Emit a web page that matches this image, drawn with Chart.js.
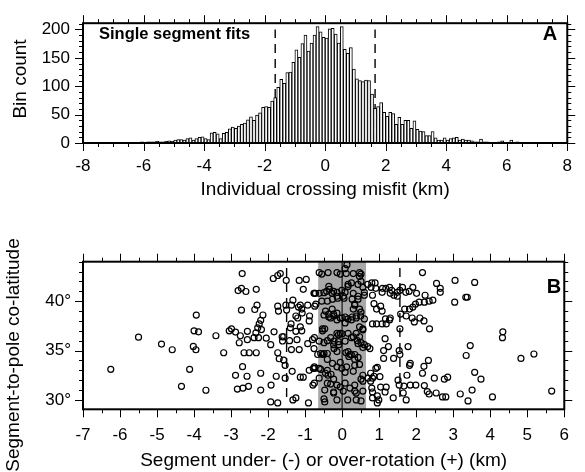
<!DOCTYPE html>
<html><head><meta charset="utf-8">
<script src="https://cdn.jsdelivr.net/npm/chart.js@4.4.0/dist/chart.umd.min.js"></script>
<style>
html,body{margin:0;padding:0;background:#fff;}
#wrap{position:relative;width:585px;height:472px;overflow:hidden;}
#cA{position:absolute;left:0;top:0;width:585px;height:215px;}
#cB{position:absolute;left:0;top:215px;width:585px;height:257px;}
</style></head><body>
<div id="wrap"><canvas id="cA" width="585" height="215"></canvas><canvas id="cB" width="585" height="257"></canvas></div>
<script>
// ---------- Panel A data (histogram, 0.1 km bins from -8 to 8) ----------
const binStart = -8;
const binWidth = 0.1;
const histCounts = [
  0,0,0,0,0,1,1,0,1,1, 0,1,1,1,0,1,1,1,1,2,
  1,2,2,2,3,2,2,3,4,3, 5,6,6,5,8,9,5,8,10,11,
  8,6,18,19,16,8,17,19,25,28, 26,30,33,35,41,46,40,49,53,63,
  64,63,74,80,98,112,105,124,125,142, 164,151,175,190,162,176,190,205,196,186,
  185,201,202,192,176,205,165,158,168,130, 113,110,108,111,110,86,61,64,71,54,
  47,54,52,33,45,33,40,40,26,39, 24,21,20,13,13,20,9,5,5,9,
  5,8,9,10,5,7,5,5,4,2, 2,7,2,2,1,1,1,2,4,1,
  1,5,1,2,1,1,1,0,0,0, 0,0,0,0,0,0,0,0,0,0
];
const histXTicks = [-8,-6,-4,-2,0,2,4,6,8];
const histYTicks = [0,50,100,150,200];
const histDashX = [-1.65, 1.65];
const histDashTop = 200;

// ---------- Panel B data (scatter) ----------
const scatXTicks = [-7,-6,-5,-4,-3,-2,-1,0,1,2,3,4,5,6];
const scatYTicks = [30,35,40];
const boxHalfWidth = 0.65;
const scatDashX = [-1.5, 1.56];
const scatDashRange = [30.3, 43.6];
const segmentPoints = [
[-6.25,33.1],[-5.5,36.36],[-4.88,35.66],[-4.59,35.08],[-4.34,31.38],[-4.12,33.1],[-4.02,35.42],[-3.95,35.08],[-4.0,37.0],[-3.88,36.9],
[-3.94,38.59],[-3.68,30.98],[-3.41,36.5],[-3.2,34.78],[-3.05,37.0],[-2.99,37.2],[-2.88,36.87],[-2.78,35.79],[-2.75,36.5],[-2.88,32.49],
[-2.83,31.1],[-2.68,31.2],[-2.69,33.37],[-2.65,34.78],[-2.51,34.78],[-2.57,32.4],[-2.53,31.38],[-2.81,41.08],[-2.72,41.3],[-2.6,40.98],
[-2.7,42.8],[-2.72,39.09],[-2.56,36.95],[-2.56,36.1],[-2.38,36.3],[-2.33,36.8],[-2.28,37.3],[-2.24,37.7],[-2.18,37.13],[-2.2,38.06],
[-2.14,38.6],[-2.32,41.2],[-2.36,39.16],[-2.3,39.6],[-2.26,36.3],[-2.32,34.78],[-2.2,32.7],[-2.2,31.0],[-2.05,36.25],[-1.93,35.6],
[-1.84,36.9],[-1.92,31.5],[-1.93,29.8],[-1.78,32.4],[-1.74,29.7],[-1.86,42.3],[-1.74,42.6],[-1.67,42.8],[-1.74,39.5],[-1.72,39.0],
[-1.62,36.4],[-1.58,36.4],[-1.74,34.78],[-1.7,34.17],[-1.58,34.04],[-1.54,33.5],[-1.54,32.2],[-1.51,42.1],[-1.61,35.97],[-1.52,39.6],
[-1.5,39.1],[-1.42,36.0],[-1.38,37.7],[-1.4,37.3],[-1.37,39.6],[-1.33,40.1],[-1.37,35.1],[-1.35,32.9],[-1.33,30.0],[-1.25,30.2],
[-1.16,42.1],[-0.97,42.2],[-1.05,41.2],[-1.18,39.4],[-1.13,39.6],[-1.09,39.2],[-1.08,38.8],[-1.25,38.5],[-1.2,38.3],[-1.13,37.4],
[-1.09,37.0],[-1.25,36.95],[-1.22,36.1],[-1.16,35.1],[-1.13,32.3],[-1.05,32.3],[-0.93,39.6],[-0.89,38.0],[-0.88,38.5],[-0.93,35.7],
[-0.91,29.7],[-0.79,31.5],[-0.89,33.0],[-0.78,33.2],[-0.74,33.2],[-0.8,36.1],[-0.76,40.8],[-0.72,40.8],[-0.74,39.5],[-0.76,35.2],
[-0.62,42.9],[-0.55,42.75],[-0.38,42.9],[-0.14,42.9],[-0.05,42.75],[0.11,42.8],[0.3,42.8],[0.47,42.9],[0.51,42.75],[0.13,43.7],[0.08,43.3],
[-0.75,40.8],[-0.62,40.8],[-0.49,40.86],[-0.34,41.2],[-0.27,40.8],[-0.14,40.9],[-0.01,41.1],[0.08,40.9],[0.16,41.7],[0.25,41.85],
[0.43,41.7],[0.51,42.0],[0.56,41.4],[0.6,40.9],[0.69,41.7],[-0.4,40.0],[-0.26,40.2],[-0.12,40.3],[0.03,40.5],[0.27,40.2],
[0.43,40.5],[0.6,40.6],[-0.71,39.7],[-0.55,40.0],[-0.45,39.0],[-0.27,39.2],[-0.14,38.8],[-0.22,38.5],[-0.31,38.3],[-0.05,38.3],
[0.08,38.4],[0.16,38.2],[0.27,38.4],[0.38,38.5],[0.5,38.5],[0.6,38.2],[0.3,39.2],[0.34,39.7],[0.47,39.2],[-0.36,38.7],
[-0.53,37.2],[-0.47,37.2],[-0.14,36.75],[-0.05,36.75],[0.16,36.75],[0.38,36.75],[0.47,36.4],[0.56,37.2],[-0.75,36.3],[-0.62,35.95],
[-0.49,35.8],[-0.31,36.3],[-0.22,35.95],[-0.09,35.6],[0.08,35.95],[0.25,36.3],[0.41,36.0],[0.51,35.8],[0.6,35.6],[-0.66,34.6],
[-0.53,34.6],[-0.4,34.7],[-0.22,35.2],[-0.14,34.9],[0.16,34.9],[0.18,34.4],[0.25,34.6],[0.34,34.6],[0.43,34.3],[-0.75,33.35],
[-0.62,33.2],[-0.45,32.7],[-0.38,32.5],[-0.26,33.7],[-0.14,33.35],[-0.01,33.2],[0.12,33.35],[0.34,33.5],[0.56,32.5],[-0.75,31.7],
[-0.62,32.2],[-0.4,31.7],[-0.14,31.5],[0.08,31.7],[0.34,31.5],[0.56,31.9],[-0.47,31.0],[-0.23,30.7],[0.03,30.9],[0.34,30.9],
[0.56,30.9],[-0.47,29.8],[-0.14,30.0],[0.15,30.0],[0.38,30.0],
[-0.36,41.5],[-0.42,41.0],[-0.23,41.0],[-0.14,40.5],[0.05,40.3],[0.16,41.5],[-0.49,38.6],[-0.36,38.4],[-0.14,38.1],[0.0,38.3],
[0.08,37.8],[-0.23,38.7],[-0.1,36.6],[0.0,36.7],[-0.53,37.0],[-0.4,36.0],[-0.23,35.6],[-0.1,35.9],[0.1,34.8],[-0.58,34.7],
[-0.49,34.7],[-0.4,34.1],[-0.05,33.8],[-0.58,33.1],[-0.4,33.0],[-0.3,32.6],[-0.23,32.1],[0.08,32.8],[-0.31,31.6],[-0.05,31.3],
[-0.49,30.1],[-0.23,30.8],[0.3,40.8],[0.47,42.5],[0.43,40.2],[0.34,39.6],[0.51,38.9],[0.38,38.3],[0.25,38.1],[0.47,37.4],
[0.56,37.1],[0.3,36.4],[0.43,35.7],[0.56,35.3],[0.21,34.6],[0.34,34.1],[0.47,33.6],[0.3,32.9],[0.51,32.1],[0.21,31.2],
[0.38,30.7],[0.51,29.9],
[0.8,41.85],[0.89,41.85],[0.82,40.6],[0.86,39.75],[0.93,39.2],[0.82,37.7],[0.93,37.7],[1.08,37.7],[1.19,37.7],[1.3,38.3],
[1.04,39.5],[1.08,39.0],[1.17,38.2],[1.28,38.1],[1.09,41.3],[1.18,41.3],[1.28,41.4],[1.34,41.1],[1.3,40.8],[1.4,40.6],
[1.49,40.9],[1.56,41.1],[1.49,40.5],[1.63,41.4],[1.72,40.9],[1.81,41.0],[1.91,41.4],[2.01,40.8],[2.17,42.9],[2.24,40.6],
[2.45,40.1],[2.55,41.8],[2.65,41.3],[2.65,40.9],[2.35,40.0],[2.22,39.9],[2.08,39.9],[1.98,39.7],[1.91,39.4],[1.82,39.2],
[1.69,39.2],[1.73,38.5],[1.58,38.7],[1.56,37.2],[1.89,38.3],[1.95,37.9],[2.1,38.3],[2.21,38.0],[2.36,37.2],[3.04,39.9],
[3.05,42.1],[3.34,40.4],[3.38,40.4],[3.58,41.9],[4.34,36.9],[4.33,36.3],[3.46,35.5],[3.35,34.5],[3.58,32.8],[3.75,32.1],
[4.83,34.2],[5.18,34.65],[5.66,30.9],[4.06,30.3],[3.51,31.0],[3.4,29.9],[3.19,30.6],[2.85,32.3],[2.76,32.1],[2.49,32.2],
[2.71,30.3],[2.8,30.3],[2.54,30.7],[2.3,30.85],[2.35,30.6],[2.22,31.45],[2.17,32.7],[2.21,33.4],[2.33,34.0],[1.99,31.5],
[1.84,31.5],[1.73,30.0],[1.65,30.7],[1.67,31.4],[1.54,31.5],[1.51,32.0],[1.75,32.5],[1.82,33.5],[1.84,33.7],[1.78,35.4],
[1.54,35.0],[1.56,34.6],[1.39,34.2],[1.25,35.4],[1.12,35.0],[1.12,34.2],[1.16,36.2],[1.02,32.35],[1.04,31.3],[1.19,31.3],
[1.16,30.8],[1.38,30.2],[0.95,30.4],[0.95,29.7],[0.99,30.0],[0.82,30.2],[0.82,30.8],[0.8,31.2],[0.77,31.9],[0.7,32.2],
[0.82,32.2],[0.86,32.4],[0.91,33.2],[0.95,33.3],[0.77,32.7],[0.75,35.2],[0.69,35.4],[0.78,41.4],[0.91,41.3],[1.08,40.9]
];

// ---------- common ----------
const FONT = "'Liberation Sans', Arial, Helvetica, sans-serif";
Chart.defaults.font.family = FONT;
Chart.defaults.font.size = 17;
Chart.defaults.color = '#000';

function range(a, b, s) { const r = []; for (let v = a; v <= b + 1e-9; v += s) r.push(Math.round(v * 1000) / 1000); return r; }

const framePlugin = {
  id: 'frame',
  afterDatasetsDraw(chart, args, o) {
    const {ctx, chartArea: a, scales: {x, y}} = chart;
    ctx.save();
    ctx.strokeStyle = '#000';
    ctx.lineWidth = 1;
    const seg = (x1, y1, x2, y2) => { ctx.beginPath(); ctx.moveTo(x1, y1); ctx.lineTo(x2, y2); ctx.stroke(); };
    o.xMinor.forEach(v => { const p = Math.round(x.getPixelForValue(v)) + 0.5; seg(p, a.bottom, p, a.bottom + 4); seg(p, a.top, p, a.top - 4); });
    o.xMajor.forEach(v => { const p = Math.round(x.getPixelForValue(v)) + 0.5; seg(p, a.bottom, p, a.bottom + 8); seg(p, a.top, p, a.top - 8); });
    o.yMinor.forEach(v => { const p = Math.round(y.getPixelForValue(v)) + 0.5; seg(a.left, p, a.left - 4, p); seg(a.right, p, a.right + 4, p); });
    o.yMajor.forEach(v => { const p = Math.round(y.getPixelForValue(v)) + 0.5; seg(a.left, p, a.left - 8, p); seg(a.right, p, a.right + 8, p); });
    ctx.lineWidth = 2;
    ctx.strokeRect(a.left, a.top, a.right - a.left, a.bottom - a.top);
    // y title
    ctx.fillStyle = '#000';
    ctx.font = '19px ' + FONT;
    ctx.textAlign = 'center';
    ctx.textBaseline = 'middle';
    ctx.translate(o.yTitleX, o.yTitleY);
    ctx.rotate(-Math.PI / 2);
    ctx.fillText(o.yTitle, 0, 0);
    ctx.setTransform(1, 0, 0, 1, 0, 0);
    // annotations
    (o.texts || []).forEach(t => {
      ctx.font = t.font;
      ctx.textAlign = t.align;
      ctx.textBaseline = 'middle';
      ctx.fillText(t.text, t.x, t.y);
    });
    ctx.restore();
  }
};

function fixSize(w, h) {
  return function(scale) { if (w !== null) scale.width = w; if (h !== null) scale.height = h; };
}

// ---------- Chart A ----------
const histData = histCounts.map((c, i) => ({x: binStart + binWidth * (i + 0.5), y: c}));
const dashA = histDashX.map(xv => ({
  type: 'line', data: [{x: xv, y: 0}, {x: xv, y: histDashTop}],
  borderColor: '#000', borderWidth: 1.4, borderDash: [9, 6], pointRadius: 0, order: 2
}));

new Chart(document.getElementById('cA'), {
  type: 'bar',
  data: {
    datasets: [{
      type: 'bar', data: histData, backgroundColor: '#fff', borderColor: '#000', borderWidth: 1,
      barPercentage: 1, categoryPercentage: 1, order: 1
    }, ...dashA]
  },
  options: {
    responsive: false, animation: false, devicePixelRatio: 1,
    layout: {padding: {left: 0, right: 6, top: 13, bottom: 0}},
    plugins: {
      legend: {display: false}, tooltip: {enabled: false},
      frame: {
        xMajor: histXTicks, xMinor: range(-8, 8, 0.5),
        yMajor: histYTicks, yMinor: range(0, 210, 10),
        yTitle: 'Bin count', yTitleX: 21, yTitleY: 79,
        texts: [
          {text: 'Single segment fits', x: 99, y: 34, font: 'bold 16.5px ' + FONT, align: 'left'},
          {text: 'A', x: 550, y: 34, font: 'bold 20px ' + FONT, align: 'center'}
        ]
      }
    },
    scales: {
      x: {
        type: 'linear', min: -8, max: 8, offset: false,
        afterBuildTicks: s => { s.ticks = histXTicks.map(v => ({value: v})); },
        afterFit: fixSize(null, 72),
        grid: {display: false, drawTicks: false}, border: {display: false},
        ticks: {padding: 13, maxRotation: 0, autoSkip: false, font: {size: 17}},
        title: {display: true, text: 'Individual crossing misfit (km)', font: {size: 19}, padding: {top: 0, bottom: 14}}
      },
      y: {
        type: 'linear', min: 0, max: 211,
        afterBuildTicks: s => { s.ticks = histYTicks.map(v => ({value: v})); },
        afterFit: fixSize(83, null),
        grid: {display: false, drawTicks: false}, border: {display: false},
        ticks: {padding: 13, font: {size: 17}}
      }
    }
  },
  plugins: [framePlugin]
});

// ---------- Chart B ----------
const yMinB = 29.05, yMaxB = 44;
const dashB = scatDashX.map(xv => ({
  type: 'line', data: [{x: xv, y: scatDashRange[0]}, {x: xv, y: scatDashRange[1]}],
  borderColor: '#000', borderWidth: 1.4, borderDash: [9, 6], pointRadius: 0, order: 0
}));

new Chart(document.getElementById('cB'), {
  type: 'scatter',
  data: {
    datasets: [
      {type: 'line', data: [{x: -boxHalfWidth, y: yMaxB}, {x: boxHalfWidth, y: yMaxB}],
       fill: 'start', backgroundColor: '#a9a9a9', borderWidth: 0, borderColor: 'rgba(0,0,0,0)', pointRadius: 0, order: 5},
      {type: 'line', data: [{x: 0, y: yMinB}, {x: 0, y: yMaxB}],
       borderColor: '#333', borderWidth: 1.5, pointRadius: 0, order: 4},
      {type: 'scatter', data: segmentPoints.map(p => ({x: p[0], y: p[1]})),
       pointRadius: 3, pointBorderWidth: 1.2, borderColor: '#000', backgroundColor: 'rgba(0,0,0,0)', order: 1},
      ...dashB
    ]
  },
  options: {
    responsive: false, animation: false, devicePixelRatio: 1,
    layout: {padding: {left: 0, right: 5.5, top: 46.7, bottom: 0}},
    plugins: {
      legend: {display: false}, tooltip: {enabled: false},
      frame: {
        xMajor: scatXTicks, xMinor: range(-7, 6, 0.5),
        yMajor: scatYTicks, yMinor: range(30, 44, 1),
        yTitle: 'Segment-to-pole co-latitude', yTitleX: 14, yTitleY: 140,
        texts: [{text: 'B', x: 554, y: 72, font: 'bold 20px ' + FONT, align: 'center'}]
      }
    },
    scales: {
      x: {
        type: 'linear', min: -7, max: 6,
        afterBuildTicks: s => { s.ticks = scatXTicks.map(v => ({value: v})); },
        afterFit: fixSize(null, 62.7),
        grid: {display: false, drawTicks: false}, border: {display: false},
        ticks: {padding: 16, maxRotation: 0, autoSkip: false, font: {size: 17}},
        title: {display: true, text: 'Segment under- (-) or over-rotation (+) (km)', font: {size: 19}, padding: {top: 0, bottom: 0}}
      },
      y: {
        type: 'linear', min: yMinB, max: yMaxB,
        afterBuildTicks: s => { s.ticks = scatYTicks.map(v => ({value: v})); },
        afterFit: fixSize(83, null),
        grid: {display: false, drawTicks: false}, border: {display: false},
        ticks: {padding: 12, font: {size: 17}, callback: v => v + '°'}
      }
    }
  },
  plugins: [framePlugin]
});
</script>
</body></html>
